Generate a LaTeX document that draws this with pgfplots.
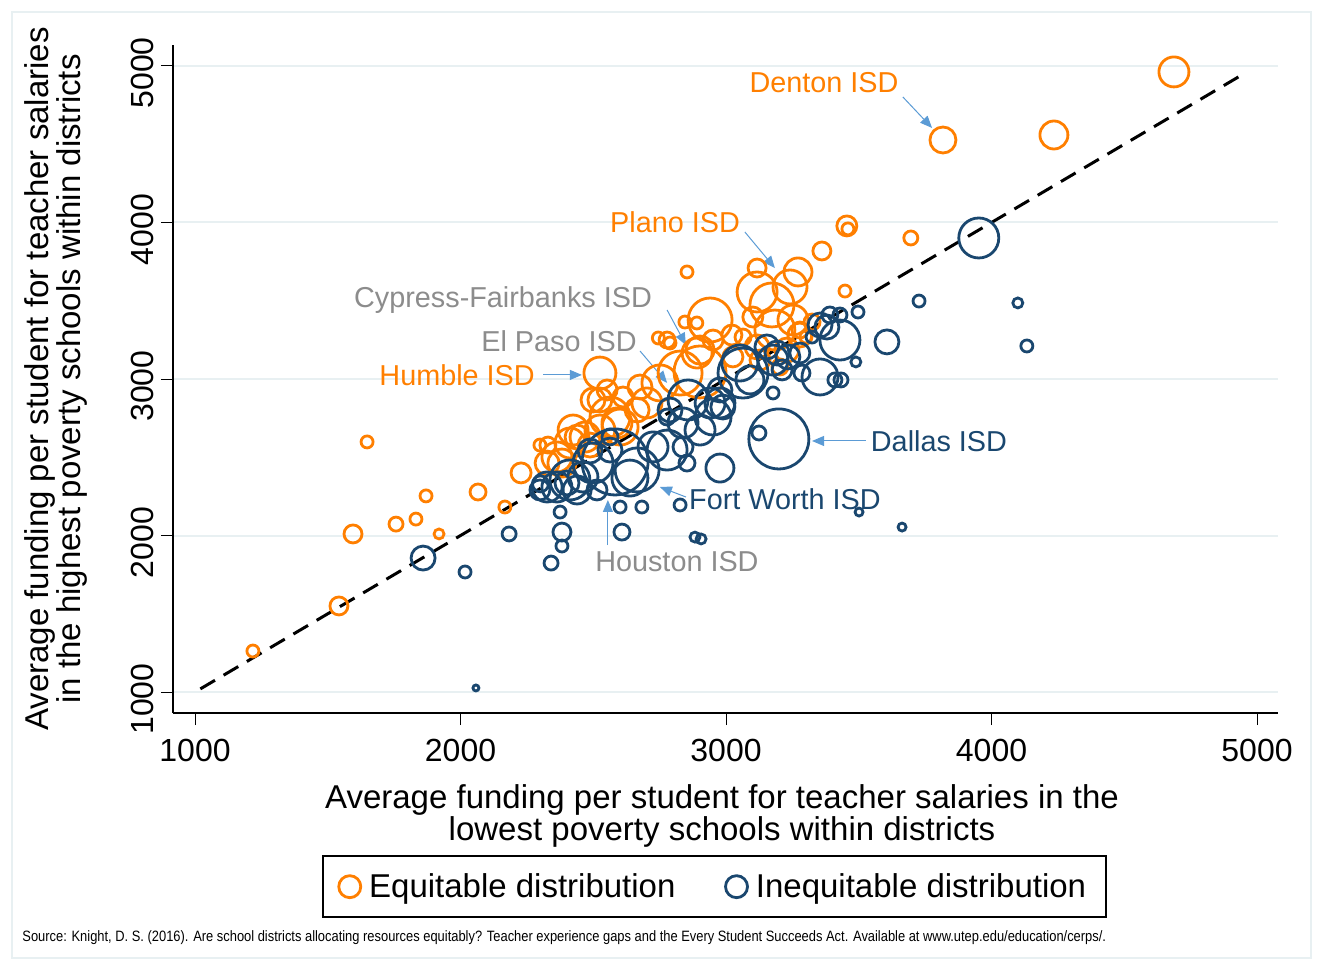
\documentclass[border=0pt]{standalone}
\usepackage{pgfplots}
\pgfplotsset{compat=1.18}
\usepackage{pgfplotstable}
\usepackage{fontspec}
\setmainfont{Liberation Sans}
\newfontfamily\narrowfont[FakeStretch=0.86]{Liberation Sans}
\usetikzlibrary{arrows.meta}

\definecolor{eqorange}{RGB}{255,127,0}
\definecolor{ineqnavy}{RGB}{26,71,111}
\definecolor{annogray}{RGB}{140,140,140}
\definecolor{arrowblue}{RGB}{91,155,213}
\definecolor{gridcol}{RGB}{232,240,242}
\newcommand\annofont{\fontsize{14.4}{14.4}\selectfont}

% equitable districts: x = low-poverty funding, y = high-poverty funding, s = marker radius
\pgfplotstableread{
x y s
4687 4962 15
4235 4559 14
3817 4527 13
3455 3978 10
3459 3959 6
3696 3901 7
3361 3818 9
3448 3562 6
2853 3684 6
3117 3709 9
3271 3684 14
3117 3556 20
3241 3588 17
3173 3473 22
2940 3377 22
2845 3364 6
2890 3358 6
3184 3313 20
3252 3377 15
3101 3396 10
3022 3281 10
2902 3185 14
2902 3045 26
3026 3141 10
3064 3268 8
3117 3205 12
3229 3185 12
3278 3281 12
3203 3077 8
3128 3121 10
2525 3038 16
2228 2400 10
2167 2182 6
2299 2578 6
2363 2502 15
2412 2591 15
2499 2866 12
2552 2930 10
2612 2885 10
2563 2757 20
2601 2693 18
2525 2674 15
2439 2629 12
2382 2463 14
2326 2463 12
2676 2949 12
2702 2847 15
2751 2975 18
2827 3038 22
2891 3166 15
2951 3249 10
2778 3249 8
2424 2674 15
2589 2719 15
2525 2866 12
2665 2802 12
2469 2629 15
2488 2578 12
2789 3230 6
2745 3262 6
3324 3364 8
3301 3268 6
3278 3313 8
2329 2578 8
1648 2598 6
1595 2010 9
1542 1550 9
1218 1262 6
1757 2073 7
1832 2105 6
1870 2253 6
1919 2010 5
2066 2278 8
}\equitable

% inequitable districts
\pgfplotstableread{
x y s
3952 3901 20
3727 3498 6
4099 3486 5
4133 3211 6
3606 3237 12
3489 3109 5
3497 3428 6
3663 2054 4
3501 2150 4
2058 1026 3
1859 1856 12
2017 1767 6
2183 2010 7
2341 1824 7
2382 1933 6
2382 2022 9
2601 2182 6
2683 2182 6
2827 2195 6
2883 1990 5
2906 1978 5
2608 2022 8
2375 2150 6
3199 2617 30
3124 2655 7
2977 2431 14
3429 3249 20
3354 3013 18
3410 2994 7
3433 2994 7
3177 2911 6
3286 3038 8
3211 3058 10
3192 3166 12
3278 3166 10
3380 3332 12
3391 3409 8
3429 3409 7
3324 3268 6
3090 2994 14
3064 3038 25
3052 3102 18
2977 2930 12
2857 2866 20
2977 2847 15
2951 2757 18
2902 2674 15
2838 2719 15
2778 2757 8
2725 2566 15
2778 2546 20
2838 2566 10
2853 2463 8
2665 2419 22
2582 2470 33
2563 2546 12
2461 2374 15
2499 2463 20
2401 2336 12
2326 2310 15
2299 2291 10
2439 2291 14
2514 2291 10
2363 2310 15
2412 2355 20
2638 2367 18
2789 2802 12
2940 2847 15
2988 2821 12
3354 3345 12
3177 3121 15
3233 3141 12
3154 3205 12
2563 2630 8
2488 2540 12
2301 2330 8
}\inequitable

\begin{document}
\begin{tikzpicture}
\begin{axis}[
  at={(86.5pt,128.5pt)}, anchor=south west,
  scale only axis, width=552.5pt, height=334pt,
  xmin=917, xmax=5079, ymin=866, ymax=5134,
  axis x line*=bottom, axis y line*=left,
  axis line style={-, line width=0.75pt},
  xtick={1000,2000,3000,4000,5000},
  ytick={1000,2000,3000,4000,5000},
  tick align=outside, major tick length=6pt,
  tick style={line width=0.5pt, black},
  ymajorgrids, grid style={gridcol, line width=1pt},
  ticklabel style={font=\fontsize{16}{16}\selectfont},
  xticklabel style={yshift=-3.5pt},
  yticklabel style={rotate=90, anchor=south, xshift=-3.5pt},
  /pgf/number format/assume math mode=true,
  /pgf/number format/set thousands separator={},
  clip=false,
  legend style={at={(rel axis cs:0.49,-0.26)}, anchor=center,
    legend columns=2, draw=black, line width=0.75pt,
    font=\fontsize{16.5}{16.5}\selectfont,
    inner xsep=8pt, inner ysep=6.5pt,
    /tikz/every even column/.append style={column sep=23pt}},
  legend image code/.code={\draw[#1, mark=o, mark size=5.5pt, line width=1.4pt] plot coordinates {(0pt,0pt)}; \path[draw=none] (0pt,0pt) -- (7.7pt,0pt);},
]
\addplot[scatter, only marks, mark=o, line width=1.4pt,
  scatter/use mapped color={draw=eqorange, fill=none},
  visualization depends on={0.5*\thisrow{s} \as \ms},
  scatter/@pre marker code/.append style={/tikz/mark size=\ms},
  forget plot] table {\equitable};
\addplot[scatter, only marks, mark=o, line width=1.4pt,
  scatter/use mapped color={draw=ineqnavy, fill=none},
  visualization depends on={0.5*\thisrow{s} \as \ms},
  scatter/@pre marker code/.append style={/tikz/mark size=\ms},
  forget plot] table {\inequitable};
% line of equality
\addplot[black, line width=1.5pt, dash pattern=on 8.5pt off 5pt, forget plot]
  coordinates {(1020,1020) (4950,4950)};

\addlegendimage{eqorange}
\addlegendentry{Equitable distribution}
\addlegendimage{ineqnavy}
\addlegendentry{Inequitable distribution}

% district labels
\node[text=eqorange, font=\annofont] at (axis cs:3369,4892) {Denton ISD};
\draw[arrowblue, line width=0.5pt, -{Triangle[length=6pt,width=5pt]}] (axis cs:3666,4802) -- (axis cs:3776,4604);
\node[text=eqorange, font=\annofont] at (axis cs:2808,4003) {Plano ISD};
\draw[arrowblue, line width=0.5pt, -{Triangle[length=6pt,width=5pt]}] (axis cs:3071,3939) -- (axis cs:3184,3709);
\node[text=annogray, font=\annofont] at (axis cs:2160,3505) {Cypress-Fairbanks ISD};
\draw[arrowblue, line width=0.5pt, -{Triangle[length=6pt,width=5pt]}] (axis cs:2778,3441) -- (axis cs:2849,3217);
\node[text=annogray, font=\annofont] at (axis cs:2371,3243) {El Paso ISD};
\draw[arrowblue, line width=0.5pt, -{Triangle[length=6pt,width=5pt]}] (axis cs:2676,3179) -- (axis cs:2778,2975);
\node[text=eqorange, font=\annofont] at (axis cs:1987,3026) {Humble ISD};
\draw[arrowblue, line width=0.5pt, -{Triangle[length=6pt,width=5pt]}] (axis cs:2311,3026) -- (axis cs:2457,3026);
\node[text=ineqnavy, font=\annofont] at (axis cs:3802,2604) {Dallas ISD};
\draw[arrowblue, line width=0.5pt, -{Triangle[length=6pt,width=5pt]}] (axis cs:3527,2604) -- (axis cs:3324,2604);
\node[text=ineqnavy, font=\annofont] at (axis cs:3222,2233) {Fort Worth ISD};
\draw[arrowblue, line width=0.5pt, -{Triangle[length=6pt,width=5pt]}] (axis cs:2849,2246) -- (axis cs:2751,2310);
\node[text=annogray, font=\annofont] at (axis cs:2815,1831) {Houston ISD};
\draw[arrowblue, line width=0.5pt, -{Triangle[length=6pt,width=5pt]}] (axis cs:2555,1939) -- (axis cs:2555,2227);
\end{axis}

\path[use as bounding box] (0,0) rectangle (661.5pt,485pt);
\draw[gridcol, line width=0.75pt] (6pt,6pt) rectangle (655.5pt,479pt);
\node[rotate=90, align=center, font=\fontsize{16.5}{16}\selectfont] at (28pt,295.5pt)
  {Average funding per student for teacher salaries\\in the highest poverty schools within districts};
\node[align=center, font=\fontsize{16.5}{16}\selectfont] at (361pt,77pt)
  {Average funding per student for teacher salaries in the\\lowest poverty schools within districts};
\node[anchor=west, inner sep=0pt, font=\narrowfont\fontsize{7.5}{7.5}\selectfont] at (11pt,16pt)
  {Source: Knight, D. S. (2016). Are school districts allocating resources equitably? Teacher experience gaps and the Every Student Succeeds Act. Available at www.utep.edu/education/cerps/.};
\end{tikzpicture}
\end{document}
